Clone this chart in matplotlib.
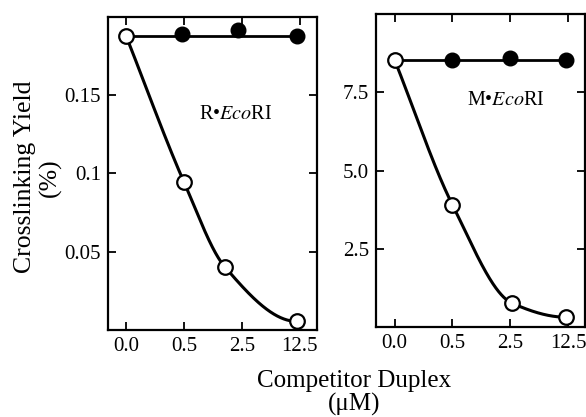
import numpy as np
import matplotlib
matplotlib.use("Agg")
import matplotlib.pyplot as plt

plt.rcParams['font.family'] = ['Liberation Serif', 'DejaVu Serif']
plt.rcParams['mathtext.fontset'] = 'stix'

# competitor duplex concentration labels (uM), plotted as equally spaced categories
conc_labels = ["0.0", "0.5", "2.5", "12.5"]

# R.EcoRI panel
r_open_x = [0, 1, 1.7, 2.95]
r_open_y = [0.1876, 0.0943, 0.0405, 0.0054]
r_fill_x = [0, 0.97, 1.93, 2.95]
r_fill_y = [0.1876, 0.1895, 0.192, 0.1876]

# M.EcoRI panel
m_open_x = [0, 1, 2.03, 2.97]
m_open_y = [8.53, 3.9, 0.76, 0.31]
m_fill_x = [0, 1, 2.0, 2.97]
m_fill_y = [8.53, 8.55, 8.6, 8.53]


def pchip(x, y, n=200):
    # monotone cubic through the points, just for drawing the smooth line
    x = np.asarray(x, float)
    y = np.asarray(y, float)
    h = np.diff(x)
    d = np.diff(y) / h
    m = np.zeros_like(y)
    for k in range(1, len(x) - 1):
        if d[k - 1] * d[k] > 0:
            w1 = 2 * h[k] + h[k - 1]
            w2 = h[k] + 2 * h[k - 1]
            m[k] = (w1 + w2) / (w1 / d[k - 1] + w2 / d[k])
    m[0] = d[0]
    m[-1] = 0.0
    xs, ys = [], []
    for k in range(len(x) - 1):
        t = np.linspace(0, 1, n)
        h00 = 2 * t**3 - 3 * t**2 + 1
        h10 = t**3 - 2 * t**2 + t
        h01 = -2 * t**3 + 3 * t**2
        h11 = t**3 - t**2
        xs.append(x[k] + t * h[k])
        ys.append(h00 * y[k] + h10 * h[k] * m[k] + h01 * y[k + 1] + h11 * h[k] * m[k + 1])
    return np.concatenate(xs), np.concatenate(ys)


def draw_panel(ax, ox, oy, fx, fy, yticks, ylim, label, label_pos):
    # flat line for the non-competing series
    ax.plot([fx[0], fx[-1]], [fy[0], fy[0]], color='black', lw=2.0, zorder=2)
    ax.plot(fx[1:], fy[1:], 'o', ms=10.5, color='black', zorder=3)
    cx, cy = pchip(ox, oy)
    ax.plot(cx, cy, color='black', lw=2.2, zorder=2)
    ax.plot(ox, oy, 'o', ms=10.5, mfc='white', mec='black', mew=1.6, zorder=4)
    ax.set_xlim(-0.32, 3.3)
    ax.set_ylim(*ylim)
    ax.set_xticks(range(len(conc_labels)))
    ax.set_xticklabels(conc_labels)
    ax.set_yticks(yticks)
    ax.tick_params(direction='in', top=True, right=True, length=6, width=1.3,
                   labelsize=15, pad=5)
    for s in ax.spines.values():
        s.set_linewidth(1.6)
    ax.text(label_pos[0], label_pos[1], label, transform=ax.transAxes,
            ha='center', va='center', fontsize=14.5)


fig = plt.figure(figsize=(5.86, 4.17), dpi=100)
ax1 = fig.add_axes([0.184, 0.209, 0.357, 0.750])
ax2 = fig.add_axes([0.642, 0.216, 0.357, 0.750])

draw_panel(ax1, r_open_x, r_open_y, r_fill_x, r_fill_y,
           [0.05, 0.1, 0.15], (0, 0.2), "R•$\\it{Eco}$RI", (0.61, 0.69))
ax1.set_yticklabels(["0.05", "0.1", "0.15"])
draw_panel(ax2, m_open_x, m_open_y, m_fill_x, m_fill_y,
           [2.5, 5.0, 7.5], (0, 10), "M•$\\it{Eco}$RI", (0.62, 0.725))

fig.text(0.064, 0.575, "Crosslinking Yield\n(%)", rotation=90, ha='center', va='center',
         fontsize=18.5, linespacing=1.15)
fig.text(0.604, 0.058, "Competitor Duplex\n(μM)", ha='center', va='center',
         fontsize=18, linespacing=1.05)

fig.savefig("out.png", dpi=100)
